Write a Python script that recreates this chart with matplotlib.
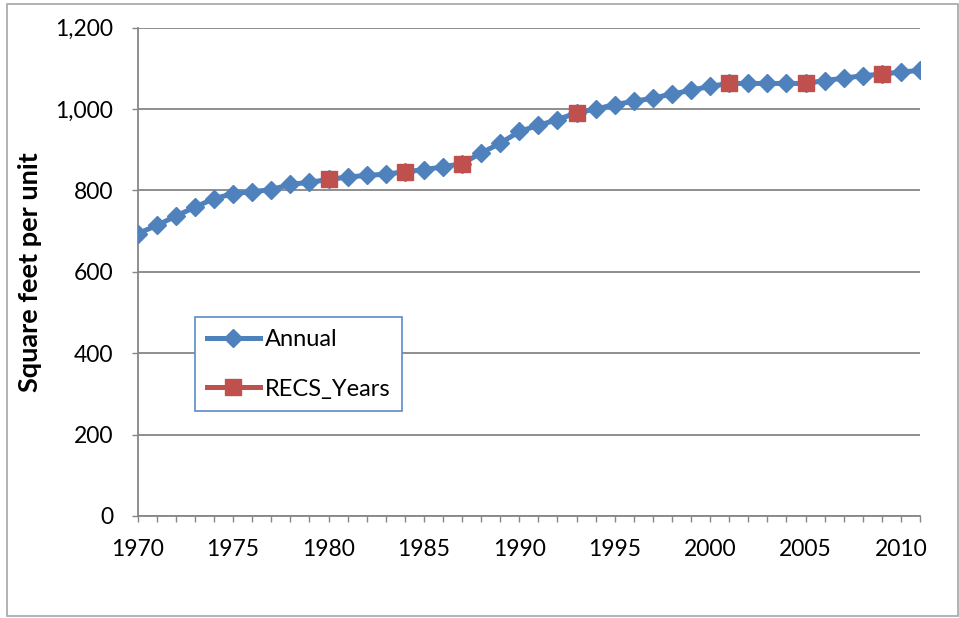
import matplotlib
matplotlib.use("Agg")
import matplotlib.pyplot as plt
from matplotlib.lines import Line2D
from matplotlib.patches import Rectangle
from matplotlib.ticker import FuncFormatter

# ---- data ----
years = list(range(1970, 2012))
annual = [694, 714, 737, 759, 780, 792, 797, 802, 815, 820,
          827, 833, 837, 840, 846, 851, 858, 866, 892, 916,
          945, 960, 974, 991, 1000, 1011, 1019, 1027, 1037, 1046,
          1056, 1063, 1063, 1063, 1063, 1063, 1070, 1076, 1082, 1086,
          1091, 1095]
recs_years = [1980, 1984, 1987, 1993, 2001, 2005, 2009]
recs_values = [827, 846, 866, 991, 1063, 1063, 1086]
y_ticks = [0, 200, 400, 600, 800, 1000, 1200]
x_label_years = [1970, 1975, 1980, 1985, 1990, 1995, 2000, 2005, 2010]
series_names = ["Annual", "RECS_Years"]
y_title = "Square feet per unit"

BLUE = "#4F81BD"
RED = "#C0504D"
GRID = "#868686"
FONT = ["Lato", "DejaVu Sans"]

plt.rcParams["font.family"] = FONT

W, H = 959, 618
fig = plt.figure(figsize=(W / 100, H / 100), dpi=100)
L, R, T, B = 137.7, 920, 27.7, 516
ax = fig.add_axes([L / W, 1 - B / H, (R - L) / W, (B - T) / H])

ax.plot(years, annual, color=BLUE, lw=3.6, marker="D", ms=9.5,
        mfc=BLUE, mec=BLUE, zorder=3, solid_joinstyle="round")
ax.plot(recs_years, recs_values, ls="none", marker="s", ms=11,
        mfc=RED, mec=RED, zorder=4)

ax.set_xlim(years[0], years[-1])
ax.set_ylim(y_ticks[0], y_ticks[-1])
ax.set_yticks(y_ticks)
ax.yaxis.set_major_formatter(FuncFormatter(lambda v, p: f"{int(v):,}"))
ax.set_xticks(years)
ax.set_xticklabels([str(y) if y in x_label_years else "" for y in years])

ax.grid(axis="y", color=GRID, lw=1.3, zorder=0)
ax.set_axisbelow(True)
for s in ["top", "right"]:
    ax.spines[s].set_visible(False)
for s in ["left", "bottom"]:
    ax.spines[s].set_color(GRID)
    ax.spines[s].set_linewidth(1.3)

ax.tick_params(axis="both", colors=GRID, length=4.5, width=1.0,
               labelcolor="black", labelsize=16.5)
ax.tick_params(axis="y", pad=13)
ax.tick_params(axis="x", pad=12)

ax.set_ylabel(y_title, fontsize=19.5, fontweight="bold")
ax.yaxis.set_label_coords(-0.122, 0.5)

handles = [
    Line2D([], [], color=BLUE, lw=3.6, marker="D", ms=9.5, mfc=BLUE, mec=BLUE),
    Line2D([], [], color=RED, lw=3.6, marker="s", ms=11, mfc=RED, mec=RED),
]
leg = ax.legend(handles, series_names, loc="upper left",
                bbox_to_anchor=(0.0733, 0.4075), borderaxespad=0,
                fontsize=17, frameon=True, fancybox=False, framealpha=1,
                edgecolor="#5B8BC6", handlelength=2.25, handletextpad=0.2,
                borderpad=0.5, labelspacing=1.22)
leg.get_frame().set_linewidth(1.2)

fig.patches.append(Rectangle((7 / W, 2 / H), (958 - 7) / W, (614 - 2) / H,
                             transform=fig.transFigure, fill=False,
                             edgecolor="#A6A6A6", lw=1.2))

fig.savefig("out.png", dpi=100)
